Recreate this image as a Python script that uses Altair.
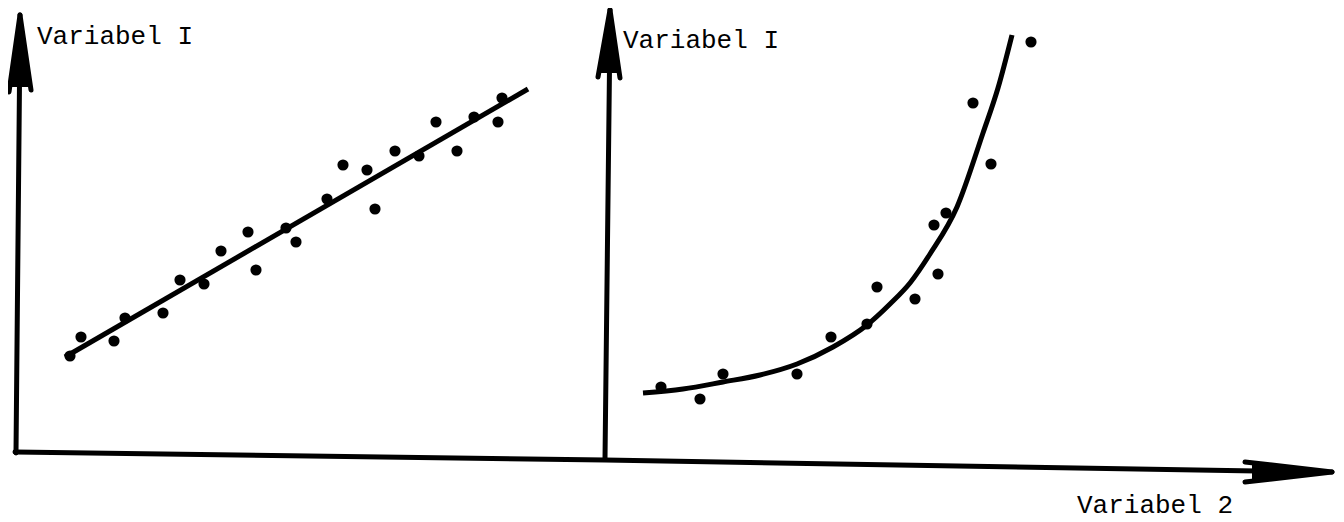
import altair as alt
import pandas as pd

# ---- data (units: Variabel 2 horizontally, Variabel I vertically) ----
left_x = [54, 65, 98, 109, 147, 164, 188, 205, 232, 240, 270, 280, 311, 327, 351, 359, 379, 403, 420, 441, 458, 482, 486]
left_y = [99, 118, 114, 137, 142, 175, 171, 204, 223, 185, 227, 213, 256, 290, 285, 246, 304, 299, 333, 304, 338, 333, 357]

right_x = [645, 684, 707, 781, 815, 851, 861, 899, 918, 922, 930, 957, 975, 1015]
right_y = [68, 56, 81, 81, 118, 131, 168, 156, 230, 181, 242, 352, 291, 413]

fit_x = [49, 512]
fit_y = [98, 366]

curve_x = [627, 667, 707, 744, 781, 817, 851, 874, 894, 914, 941, 967, 982, 996]
curve_y = [62, 66, 73, 80, 91, 108, 130, 151, 172, 201, 248, 322, 367, 420]

# axis segments: (segment name, x list, y list)
axis_segments = [
    ("xaxis", [-1, 589, 1300], [3, -5, -17]),
    ("xbarb1", [1229, 1316], [-7, -17]),
    ("xbarb2", [1229, 1316], [-27, -17]),
    ("y1", [0, 4], [2, 425]),
    ("y1barb1", [-7, 4], [363, 440]),
    ("y1barb2", [15, 4], [365, 440]),
    ("y2", [589, 594], [-4, 430]),
    ("y2barb1", [582, 594], [378, 445]),
    ("y2barb2", [604, 594], [377, 445]),
]

# arrowhead fills: vertical heads (y, left x, right x) and horizontal head (x, lower y, upper y)
vhead_seg = ["y1", "y1", "y2", "y2"]
vhead_y = [368, 440, 382, 445]
vhead_x = [-5, 4, 584, 594]
vhead_x2 = [13, 4, 602, 594]

hhead_x = [1236, 1316]
hhead_y = [-9, -17]
hhead_y2 = [-25, -17]

label_text = ["Variabel I", "Variabel I", "Variabel 2"]
label_x = [21, 607, 1061]
label_y = [419, 415, -50]

# ---- build tables ----
pts = pd.DataFrame({"x": left_x + right_x, "y": left_y + right_y})
fit = pd.DataFrame({"x": fit_x, "y": fit_y, "o": [0, 1]})
curve = pd.DataFrame({"x": curve_x, "y": curve_y, "o": list(range(len(curve_x)))})
rows = []
for name, xs, ys in axis_segments:
    for i, (a, b) in enumerate(zip(xs, ys)):
        rows.append({"seg": name, "x": a, "y": b, "o": i})
axes = pd.DataFrame(rows)
vhead = pd.DataFrame({"seg": vhead_seg, "y": vhead_y, "x": vhead_x, "x2": vhead_x2})
hhead = pd.DataFrame({"x": hhead_x, "y": hhead_y, "y2": hhead_y2})
labels = pd.DataFrame({"t": label_text, "x": label_x, "y": label_y})

X = alt.X("x:Q", scale=alt.Scale(domain=[-8, 1320], nice=False, zero=False), axis=None)
Y = alt.Y("y:Q", scale=alt.Scale(domain=[-67, 447], nice=False, zero=False), axis=None)

axis_layer = alt.Chart(axes).mark_line(
    color="black", strokeWidth=5, strokeCap="round", strokeJoin="round"
).encode(x=X, y=Y, detail="seg:N", order="o:Q")

vhead_layer = alt.Chart(vhead).mark_area(color="black", orient="horizontal", opacity=1).encode(
    y=Y, x=X, x2="x2:Q", detail="seg:N"
)

hhead_layer = alt.Chart(hhead).mark_area(color="black", orient="vertical", opacity=1).encode(
    x=X, y=Y, y2="y2:Q"
)

fit_layer = alt.Chart(fit).mark_line(color="black", strokeWidth=5, strokeCap="butt").encode(
    x=X, y=Y, order="o:Q"
)

curve_layer = alt.Chart(curve).mark_line(
    color="black", strokeWidth=5, interpolate="monotone", strokeCap="butt"
).encode(x=X, y=Y, order="o:Q")

pt_layer = alt.Chart(pts).mark_circle(color="black", opacity=1, size=125).encode(x=X, y=Y)

text_layer = alt.Chart(labels).mark_text(
    font="Liberation Mono", fontSize=26, align="left", baseline="middle", color="black"
).encode(x=X, y=Y, text="t:N")

chart = (
    alt.layer(axis_layer, vhead_layer, hhead_layer, fit_layer, curve_layer, pt_layer, text_layer)
    .properties(width=1328, height=514, padding=0, autosize=alt.AutoSizeParams(type="none"),
                background="white")
    .configure_view(stroke=None)
)

chart.save("out.html", embed_options={"renderer": "svg", "actions": False})
